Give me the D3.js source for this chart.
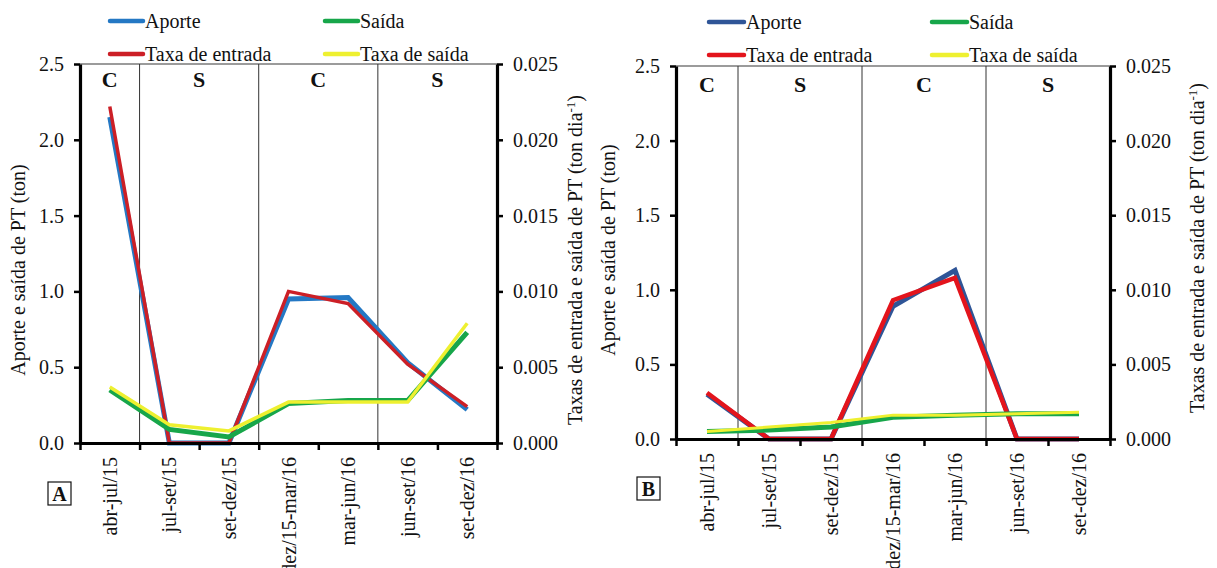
<!DOCTYPE html>
<html>
<head>
<meta charset="utf-8">
<script src="https://cdn.jsdelivr.net/npm/d3@7"></script>
<style>
  html, body { margin: 0; padding: 0; background: #fff; }
  svg { display: block; }
  text { font-family: "Liberation Serif", "Times New Roman", Times, serif; fill: #111; }
</style>
</head>
<body>
<svg id="chart" width="1217" height="568"></svg>
<script>
// Periods (x categories) shared by both panels
const periods = ["abr-jul/15", "jul-set/15", "set-dez/15", "dez/15-mar/16", "mar-jun/16", "jun-set/16", "set-dez/16"];

// Season of each group of periods: C = chuvosa, S = seca
const seasons = ["C", "S", "C", "S"];
// band index where each season starts / ends (exclusive)
const seasonStart = [0, 1, 3, 5];
const seasonEnd = [1, 3, 5, 7];

// Left axis ticks (ton) and right axis ticks (ton dia-1)
const leftTicks = [0, 0.5, 1.0, 1.5, 2.0, 2.5];
const rightTicks = [0, 0.005, 0.010, 0.015, 0.020, 0.025];

// Panel A
const aporteA = [2.15, 0.00, 0.00, 0.95, 0.96, 0.53, 0.22];
const saidaA = [0.35, 0.09, 0.04, 0.26, 0.28, 0.28, 0.73];
const taxaEntradaA = [0.0222, 0.0000, 0.0000, 0.0100, 0.0092, 0.0052, 0.0024];
const taxaSaidaA = [0.0037, 0.0012, 0.0008, 0.0027, 0.0027, 0.0027, 0.0079];

// Panel B
const aporteB = [0.30, 0.00, 0.00, 0.89, 1.13, 0.00, 0.00];
const saidaB = [0.05, 0.06, 0.08, 0.145, 0.16, 0.17, 0.17];
const taxaEntradaB = [0.0031, 0.0000, 0.0000, 0.0093, 0.0108, 0.0000, 0.0000];
const taxaSaidaB = [0.0005, 0.0008, 0.0011, 0.0016, 0.0016, 0.0017, 0.0018];

const legendNames = ["Aporte", "Saída", "Taxa de entrada", "Taxa de saída"];

const svg = d3.select("#chart");
const FONT = 20;
const SERIF = "'Liberation Serif', 'Times New Roman', Times, serif";

function drawPanel(p) {
  const g = svg.append("g");
  const x = d3.scaleBand().domain(periods).range([p.left, p.right]).paddingInner(0).paddingOuter(0);
  const yL = d3.scaleLinear().domain([0, 2.5]).range([p.bottom, p.top]);
  const yR = d3.scaleLinear().domain([0, 0.025]).range([p.bottom, p.top]);
  const cx = d => x(d) + x.bandwidth() / 2;
  const boundary = i => p.left + i * x.bandwidth();

  // top frame line
  g.append("line")
    .attr("x1", p.left).attr("x2", p.right)
    .attr("y1", p.top).attr("y2", p.top)
    .attr("stroke", "#7a7a7a").attr("stroke-width", 1.5);

  // season dividers
  [1, 3, 5].forEach(i => {
    g.append("line")
      .attr("x1", boundary(i)).attr("x2", boundary(i))
      .attr("y1", p.top).attr("y2", p.bottom)
      .attr("stroke", "#333").attr("stroke-width", 1);
  });

  // season labels
  seasons.forEach((s, k) => {
    const mid = (boundary(seasonStart[k]) + boundary(seasonEnd[k])) / 2;
    const xm = k === 0 ? cx(periods[0]) : mid;
    g.append("text")
      .attr("x", xm).attr("y", p.top + p.seasonDy)
      .attr("text-anchor", "middle")
      .attr("font-family", SERIF)
      .attr("font-size", 22).attr("font-weight", "bold")
      .text(s);
  });

  // lines
  const lineL = d3.line().x((d, i) => cx(periods[i])).y(d => yL(d));
  const lineR = d3.line().x((d, i) => cx(periods[i])).y(d => yR(d));

  const series = [
    { data: p.aporte, gen: lineL, color: p.colors[0], w: p.widths[0] },
    { data: p.taxaEntrada, gen: lineR, color: p.colors[2], w: p.widths[2] },
    { data: p.saida, gen: lineL, color: p.colors[1], w: p.widths[1] },
    { data: p.taxaSaida, gen: lineR, color: p.colors[3], w: p.widths[3] }
  ];
  series.forEach(s => {
    g.append("path")
      .attr("d", s.gen(s.data))
      .attr("fill", "none")
      .attr("stroke", s.color)
      .attr("stroke-width", s.w)
      .attr("stroke-linejoin", "miter")
      .attr("stroke-linecap", "butt");
  });

  // left axis
  const axL = g.append("g")
    .attr("transform", `translate(${p.left},0)`)
    .call(d3.axisLeft(yL).tickValues(leftTicks).tickFormat(d3.format(".1f")).tickSize(6).tickPadding(10).tickSizeOuter(0));
  // right axis
  const axR = g.append("g")
    .attr("transform", `translate(${p.right},0)`)
    .call(d3.axisRight(yR).tickValues(rightTicks).tickFormat(d3.format(".3f")).tickSize(6).tickPadding(10).tickSizeOuter(0));
  // bottom axis: ticks at band boundaries
  const boundaries = d3.range(periods.length + 1).map(boundary);
  const xb = d3.scaleLinear().domain([p.left, p.right]).range([p.left, p.right]);
  const axB = g.append("g")
    .attr("transform", `translate(0,${p.bottom})`)
    .call(d3.axisBottom(xb).tickValues(boundaries).tickFormat("").tickSize(7).tickSizeOuter(0));

  [axL, axR, axB].forEach(a => {
    a.attr("font-family", SERIF);
    a.select(".domain").attr("stroke", "#000").attr("stroke-width", 3.2);
    a.selectAll(".tick line").attr("stroke", "#000").attr("stroke-width", 2.5);
    a.selectAll(".tick text").attr("font-size", FONT)
      .attr("font-family", SERIF).attr("fill", "#111");
  });

  // category labels (rotated)
  periods.forEach(d => {
    g.append("text")
      .attr("transform", `translate(${cx(d)},${p.bottom + 14}) rotate(-90)`)
      .attr("text-anchor", "end")
      .attr("dy", "0.35em")
      .attr("font-family", SERIF)
      .attr("font-size", FONT)
      .text(d);
  });

  // axis titles
  g.append("text")
    .attr("transform", `translate(${p.leftTitleX},${p.leftTitleY}) rotate(-90)`)
    .attr("text-anchor", "middle").attr("dy", "0.35em")
    .attr("font-family", SERIF)
    .attr("font-size", FONT)
    .text("Aporte e saída de PT (ton)");
  const rt = g.append("text")
    .attr("transform", `translate(${p.rightTitleX},${p.rightTitleY}) rotate(-90)`)
    .attr("text-anchor", "middle").attr("dy", "0.35em")
    .attr("font-family", SERIF)
    .attr("font-size", FONT);
  rt.append("tspan").text("Taxas de entrada e saída de PT (ton dia");
  rt.append("tspan").attr("font-size", 13).attr("baseline-shift", "super").text("-1");
  rt.append("tspan").text(")");

  // legend
  p.legendPos.forEach((pos, i) => {
    g.append("line")
      .attr("x1", pos[0]).attr("x2", pos[0] + p.legendLen)
      .attr("y1", pos[1]).attr("y2", pos[1])
      .attr("stroke", p.colors[i]).attr("stroke-width", 4.5)
      .attr("stroke-linecap", "round");
    g.append("text")
      .attr("x", pos[0] + p.legendLen + 2).attr("y", pos[1])
      .attr("dy", "0.35em")
      .attr("font-family", SERIF)
      .attr("font-size", FONT)
      .text(legendNames[i]);
  });

  // panel tag
  g.append("rect")
    .attr("x", p.tag[0]).attr("y", p.tag[1])
    .attr("width", 23).attr("height", 23)
    .attr("fill", "#fff").attr("stroke", "#111").attr("stroke-width", 1.2);
  g.append("text")
    .attr("x", p.tag[0] + 11.5).attr("y", p.tag[1] + 11.5)
    .attr("dy", "0.35em").attr("text-anchor", "middle")
    .attr("font-family", SERIF)
    .attr("font-size", 20).attr("font-weight", "bold")
    .text(p.tagText);
}

drawPanel({
  left: 80, right: 497, top: 64, bottom: 443,
  aporte: aporteA, saida: saidaA, taxaEntrada: taxaEntradaA, taxaSaida: taxaSaidaA,
  colors: ["#2478c4", "#17a64a", "#cc1f26", "#eef030"],
  widths: [5, 5, 3.5, 3.5],
  seasonDy: 23,
  leftTitleX: 18, leftTitleY: 270,
  rightTitleX: 575, rightTitleY: 260,
  legendPos: [[110, 21], [325, 21], [110, 54], [325, 54]],
  legendLen: 33,
  tag: [48, 482], tagText: "A"
});

drawPanel({
  left: 676, right: 1110, top: 66, bottom: 439,
  aporte: aporteB, saida: saidaB, taxaEntrada: taxaEntradaB, taxaSaida: taxaSaidaB,
  colors: ["#2f5597", "#17a64a", "#e3141c", "#eef030"],
  widths: [5, 5, 4.5, 3],
  seasonDy: 26,
  leftTitleX: 608, leftTitleY: 250,
  rightTitleX: 1197, rightTitleY: 248,
  legendPos: [[709, 22], [932, 22], [709, 55], [932, 55]],
  legendLen: 35,
  tag: [637, 477], tagText: "B"
});
</script>
</body>
</html>
